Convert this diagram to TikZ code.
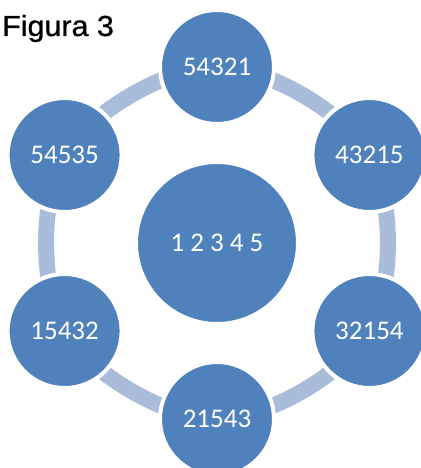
\documentclass[tikz,border=0pt]{standalone}
\usepackage{fontspec}
\setmainfont{Carlito}
\newfontfamily\labelfont[FakeBold=0.8]{Liberation Sans}
\usetikzlibrary{backgrounds,calc}
\definecolor{nodeblue}{HTML}{4F81BD}
\definecolor{ringblue}{HTML}{A9BCDA}
\tikzset{
  outernode/.style={circle, fill=nodeblue, draw=white, line width=4pt,
    minimum size=114pt, inner sep=0pt, text=white, font=\fontsize{27}{27}\selectfont},
  centernode/.style={circle, fill=nodeblue, draw=white, line width=2pt,
    minimum size=160pt, inner sep=0pt, text=white, font=\fontsize{27}{27}\selectfont},
  ringarc/.style={draw=ringblue, line width=16pt, bend left=30, looseness=0.72},
}
\begin{document}
\begin{tikzpicture}[x=1pt,y=-1pt]
\useasboundingbox (0,0) rectangle (420,468);
\coordinate (c) at (217,243);
\node[centernode] (mid) at (c) {1 2 3 4 5};
\node[outernode] (n1) at ($(c)+(0,-176)$) {54321};
\node[outernode] (n2) at ($(c)+(152.4,-88)$) {43215};
\node[outernode] (n3) at ($(c)+(152.4,88)$) {32154};
\node[outernode] (n4) at ($(c)+(0,176)$) {21543};
\node[outernode] (n5) at ($(c)+(-152.4,88)$) {15432};
\node[outernode] (n6) at ($(c)+(-152.4,-88)$) {54535};
\begin{pgfonlayer}{background}
\draw[ringarc] (n1.center) to (n2.center);
\draw[ringarc] (n2.center) to (n3.center);
\draw[ringarc] (n3.center) to (n4.center);
\draw[ringarc] (n4.center) to (n5.center);
\draw[ringarc] (n5.center) to (n6.center);
\draw[ringarc] (n6.center) to (n1.center);
\end{pgfonlayer}
\node[anchor=base west, inner sep=0pt, xscale=1.05, font=\labelfont\fontsize{29}{29}\selectfont] (title) at (2,36) {Figura 3};
\end{tikzpicture}
\end{document}
